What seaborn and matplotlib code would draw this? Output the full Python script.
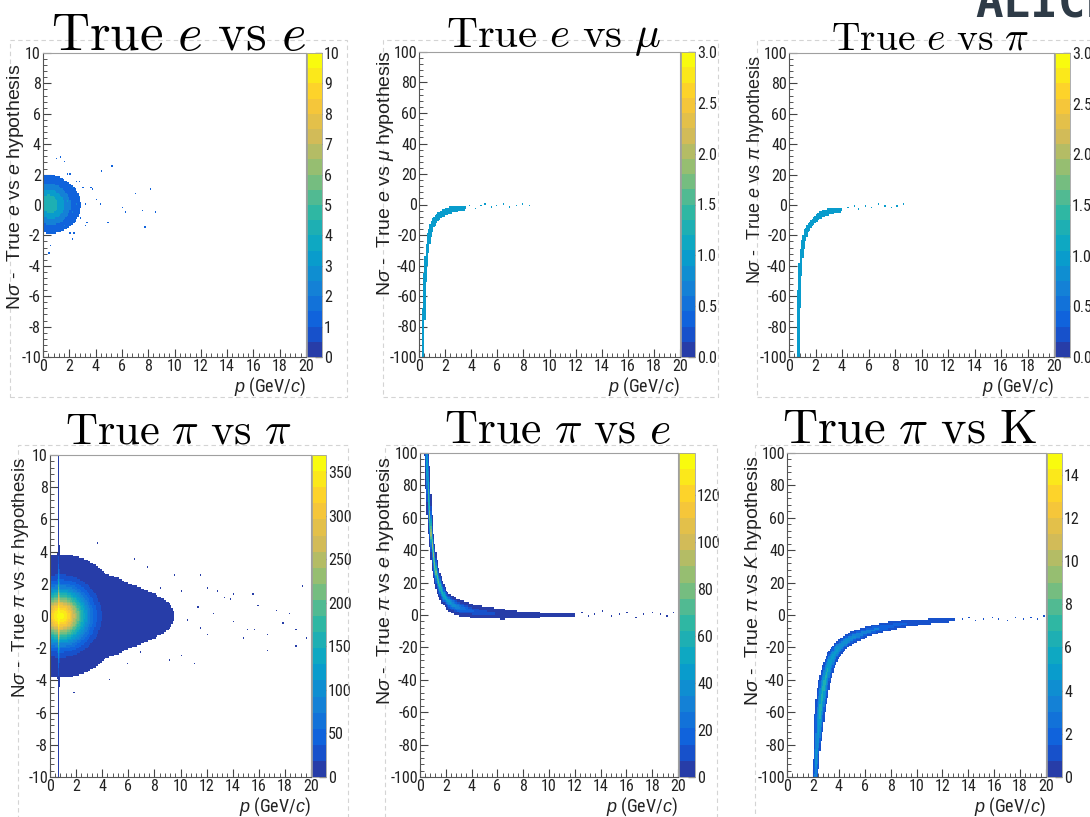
import os
import numpy as np
import matplotlib
matplotlib.use("Agg")
import matplotlib.pyplot as plt
import matplotlib.font_manager as fm
import seaborn as sns
from matplotlib.colors import LinearSegmentedColormap, ListedColormap
from matplotlib.patches import Rectangle
from matplotlib.ticker import MultipleLocator, AutoMinorLocator

# ---- data ----
# each band: momentum knots, N-sigma centre, spread (px) and peak count per bin

# True e vs e
ee_p = [0.25, 0.4, 0.6, 0.8, 1.0, 1.3, 1.6, 1.8]
ee_ns = [0.2, 0.1, 0.0, 0.0, 0.0, 0.0, 0.1, 0.2]
ee_sig = [14, 14, 14, 14, 14, 14, 13, 12]
ee_peak = [3.5, 4.2, 4.0, 3.2, 2.3, 1.2, 0.7, 0.55]
ee_out_p = [4.4, 5.3, 4.3, 4.9, 6.1, 6.3, 7.1, 7.5, 8.2, 8.5, 7.7, 3.4, 3.0, 4.1,
            2.5, 2.2, 2.0, 2.5, 3.7, 3.2, 1.6, 1.0, 0.4, 0.5,
            1.8, 2.2, 1.9, 2.3, 2.7, 2.9, 3.3, 1.6, 2.0, 2.8, 3.6, 1.4, 2.4]
ee_out_ns = [2.3, 2.5, 0.1, -1.1, -0.1, -0.4, 0.8, -0.3, 1.0, -0.4, -1.5, -1.1, 1.2, 0.4,
             0.1, -2.2, 2.1, 1.6, 1.0, -1.3, 2.9, 3.1, -3.1, -2.6,
             2.1, 1.2, 0.3, -0.5, 0.5, -0.8, 0.1, -1.4, -1.9, 1.6, 1.2, 3.2, -1.9]

# True e vs mu
emu_p = [0.27, 0.33, 0.38, 0.47, 0.56, 0.68, 0.82, 1.0, 1.25, 1.6, 2.0, 2.4, 3.0, 3.6]
emu_ns = [-100, -80, -60, -45, -36, -27, -19, -14, -10, -7, -5, -3.5, -2.5, -2]
emu_sig = [1.0, 1.0, 1.0, 1.1, 1.2, 1.3, 1.5, 1.7, 2.0, 2.2, 2.4, 2.5, 2.5, 2.0]
emu_peak = [1.4, 1.4, 1.4, 1.4, 1.4, 1.4, 1.4, 1.4, 1.4, 1.4, 1.3, 1.2, 1.0, 0.8]
emu_out_p = [3.9, 4.3, 4.7, 5.1, 5.5, 5.9, 6.4, 6.9, 7.4, 7.9, 8.4]
emu_out_ns = [-1, -3, -1, 0, -2, -1, 0, -2, -1, 0, -1]

# True e vs pi
epi_p = [0.68, 0.72, 0.76, 0.88, 1.05, 1.3, 1.6, 1.9, 2.3, 2.7, 3.3, 4.0]
epi_ns = [-100, -75, -58, -38, -25, -17, -13, -10, -7, -5, -3.8, -3]
epi_sig = [1.0, 1.0, 1.1, 1.2, 1.4, 1.6, 1.8, 2.0, 2.3, 2.5, 2.5, 2.0]
epi_peak = [1.4, 1.4, 1.4, 1.4, 1.4, 1.4, 1.4, 1.4, 1.3, 1.2, 1.0, 0.8]
epi_out_p = [4.4, 4.9, 5.3, 5.8, 6.2, 6.7, 7.2, 7.7, 8.2, 8.6]
epi_out_ns = [-2, -1, -3, -1, -2, 0, -1, -2, -1, 0]

# True pi vs pi
pipi_p = [0.6, 0.8, 1.0, 1.3, 1.6, 2.0, 2.5, 3.0, 4.0, 5.0, 6.0, 7.0, 8.0, 9.0]
pipi_ns = [0, 0, 0, 0, 0, 0, 0, 0, 0, 0, 0, 0, 0, 0]
pipi_sig = [26, 17, 16, 16, 16, 16, 16.5, 17, 17.5, 18, 18, 18, 18, 18]
pipi_peak = [370, 360, 300, 180, 110, 60, 30, 18, 8, 3.5, 2.2, 1.4, 0.9, 0.6]
stripe_p = [0.65, 0.65]
stripe_ns = [-10, 10]
stripe_sig = [0.5, 0.5]
stripe_peak = [3, 3]
pipi_out_p = [19.3, 18.8, 19.7, 18.8, 16.6, 16.6, 17.8, 15.7, 15.2, 14.8, 15.9, 15.6, 14.1,
              13.8, 13.3, 12.8, 12.1, 11.5, 12.5, 11.5, 11.0, 10.1, 9.1, 9.5, 10.1, 10.5,
              11.3, 14.1, 12.1, 8.4, 7.9, 6.9, 7.4, 6.4, 5.9, 4.6, 3.6, 1.8, 18.4, 17.4]
pipi_out_ns = [1.9, -1.9, -1.3, -0.9, -1.1, -2.1, -0.4, -0.9, -0.9, -1.3, 0.7, 1.4, 1.4,
               1.0, 1.2, 1.6, 1.8, 2.6, 0.2, -0.7, -2.9, -2.5, -2.8, 2.5, 1.5, -0.2,
               0.6, -0.3, -1.1, 1.8, -1.1, -2.3, 3.0, 3.5, -3.0, -4.0, 4.5, -4.8, 0.2, 0.4]

# True pi vs e
pie_p = [0.49, 0.6, 0.7, 0.85, 1.0, 1.2, 1.45, 1.7, 2.0, 2.5, 3.0, 4.0, 5.0, 6.5, 8.0, 10.0, 12.0]
pie_ns = [106, 85, 68, 50, 40, 28, 20, 14, 10, 6.5, 4.5, 2.5, 1.5, 0.5, 0.0, 0.0, 0.0]
pie_sig = [0.8, 0.8, 0.8, 0.8, 0.9, 1.1, 1.3, 1.6, 2.0, 2.6, 2.8, 2.5, 2.5, 2.3, 1.7, 1.5, 1.5]
pie_peak = [30, 55, 75, 85, 85, 80, 70, 60, 50, 40, 30, 15, 9, 5, 2.5, 1.2, 0.8]
pie_out_p = [12.5, 13.0, 13.6, 14.2, 14.8, 15.4, 16.0, 16.7, 17.3, 18.0, 18.6, 19.2, 19.7]
pie_out_ns = [1, -1, 0, 2, -1, 0, 1, -2, 0, 1, 0, -1, 1]

# True pi vs K
pik_p = [2.2, 2.3, 2.45, 2.55, 2.75, 2.93, 3.2, 3.55, 4.0, 4.6, 5.3, 6.3, 7.5, 9.0, 11.0, 13.0]
pik_ns = [-102, -85, -70, -60, -48, -40, -32, -25, -20, -16, -13, -10, -7.5, -5.5, -4.0, -3.2]
pik_sig = [1.3, 1.5, 2.0, 2.3, 2.6, 2.7, 2.8, 2.9, 2.9, 2.9, 2.9, 2.6, 2.5, 2.3, 2.0, 1.6]
pik_peak = [3, 4, 5, 6, 6, 6, 5.5, 5, 4.5, 4, 3.5, 3, 2.3, 1.6, 1.1, 0.8]
pik_out_p = [13.5, 14.0, 14.6, 15.2, 15.8, 16.4, 17.0, 17.6, 18.2, 18.8, 19.4, 19.8]
pik_out_ns = [-3, -2, -4, -3, -2, -3, -4, -2, -3, -2, -3, -1]

titles = [r"$\mathrm{True}\ e\ \mathrm{vs}\ e$", r"$\mathrm{True}\ e\ \mathrm{vs}\ \mu$",
          r"$\mathrm{True}\ e\ \mathrm{vs}\ \pi$", r"$\mathrm{True}\ \pi\ \mathrm{vs}\ \pi$",
          r"$\mathrm{True}\ \pi\ \mathrm{vs}\ e$", r"$\mathrm{True}\ \pi\ \mathrm{vs}\ \mathrm{K}$"]
ylabels = [r"N$\sigma$ -  True $e$ vs $e$ hypothesis", r"N$\sigma$ -  True $e$ vs $\mu$ hypothesis",
           r"N$\sigma$ -  True $e$ vs $\pi$ hypothesis", r"N$\sigma$ -  True $\pi$ vs $\pi$ hypothesis",
           r"N$\sigma$ -  True $\pi$ vs $e$ hypothesis", r"N$\sigma$ -  True $\pi$ vs $K$ hypothesis"]
cbar_max = [10, 3.0, 3.0, 370, 138, 15]
cbar_ticks = [list(range(0, 11)), [0.0, 0.5, 1.0, 1.5, 2.0, 2.5, 3.0], [0.0, 0.5, 1.0, 1.5, 2.0, 2.5, 3.0],
              [0, 50, 100, 150, 200, 250, 300, 350], [0, 20, 40, 60, 80, 100, 120], [0, 2, 4, 6, 8, 10, 12, 14]]

# ---- style ----
sns.set_style("ticks")
SANS = ["Liberation Sans", "DejaVu Sans"]
plt.rcParams["font.family"] = SANS
plt.rcParams["axes.unicode_minus"] = False
plt.rcParams["mathtext.fontset"] = "custom"
plt.rcParams["mathtext.rm"] = "Liberation Sans"
plt.rcParams["mathtext.it"] = "Liberation Sans:italic"
plt.rcParams["mathtext.bf"] = "Liberation Sans:bold"

# narrow sans for tick labels, if one is installed
narrow_file = None
all_files = [f.fname for f in fm.fontManager.ttflist]
for key in ["liberationsansnarrow-regular", "robotocondensed-regular", "notosans-condensed.",
            "dejavusanscondensed.ttf", "opensans-condensed"]:
    hits = sorted(p for p in all_files if key in os.path.basename(p).lower())
    if hits:
        narrow_file = hits[0]
        break


def tick_font(size):
    if narrow_file:
        return fm.FontProperties(fname=narrow_file, size=size)
    return fm.FontProperties(family=SANS, size=size - 1.5)


# ROOT kBird palette, 20 contours (level k takes palette position (k+1)/20)
bird_stops = [0.0, 0.125, 0.25, 0.375, 0.5, 0.625, 0.75, 0.875, 1.0]
bird_r = [0.2082, 0.0592, 0.0780, 0.0232, 0.1802, 0.5301, 0.8186, 0.9956, 0.9764]
bird_g = [0.1664, 0.3599, 0.5041, 0.6419, 0.7178, 0.7492, 0.7328, 0.7862, 0.9832]
bird_b = [0.5293, 0.8684, 0.8385, 0.7914, 0.6425, 0.4662, 0.3499, 0.1968, 0.0539]
bird_full = LinearSegmentedColormap.from_list(
    "bird_full", list(zip(bird_stops, zip(bird_r, bird_g, bird_b))), N=256)
kbird = ListedColormap([bird_full((k + 1) / 20) for k in range(20)], name="kbird")

W, H = 1090, 817


def fig_rect(l, t, r, b):
    return [l / W, 1 - b / H, (r - l) / W, (b - t) / H]


def band_density(xc, yc, bp, bn, bsig, bpeak, xr, yr, wpx, hpx):
    # density of a band along a polyline, distances measured in pixels
    sx = wpx / (xr[1] - xr[0])
    sy = hpx / (yr[1] - yr[0])
    X, Y = np.meshgrid(xc * sx, yc * sy, indexing="ij")
    kx = np.asarray(bp, float) * sx
    ky = np.asarray(bn, float) * sy
    sig = np.asarray(bsig, float)
    pk = np.asarray(bpeak, float)
    out = np.zeros_like(X)
    n = len(kx)
    for i in range(n - 1):
        dx, dy = kx[i + 1] - kx[i], ky[i + 1] - ky[i]
        t = ((X - kx[i]) * dx + (Y - ky[i]) * dy) / (dx * dx + dy * dy)
        keep = np.ones(X.shape, bool)
        if i == 0:
            keep &= t >= 0
        if i == n - 2:
            keep &= t <= 1
        t = np.clip(t, 0, 1)
        d2 = (X - kx[i] - t * dx) ** 2 + (Y - ky[i] - t * dy) ** 2
        s = sig[i] + t * (sig[i + 1] - sig[i])
        p = pk[i] + t * (pk[i + 1] - pk[i])
        out = np.maximum(out, np.where(keep, p * np.exp(-0.5 * d2 / s ** 2), 0))
    return out


panels = [
    dict(ax=(43, 53, 306, 357), cax=(307, 53, 322, 357), ylim=(-10, 10), ystep=2,
         bands=[(ee_p, ee_ns, ee_sig, ee_peak)], out=(ee_out_p, ee_out_ns),
         title=(179, 50, 38), ylab=(16, 64, 14), fmt="{:d}"),
    dict(ax=(419, 52, 680, 357), cax=(681, 52, 695, 357), ylim=(-100, 100), ystep=20,
         bands=[(emu_p, emu_ns, emu_sig, emu_peak)], out=(emu_out_p, emu_out_ns),
         title=(554, 47, 31), ylab=(385, 50, 14), fmt="{:.1f}"),
    dict(ax=(789, 53, 1054, 357), cax=(1055, 53, 1070, 357), ylim=(-100, 100), ystep=20,
         bands=[(epi_p, epi_ns, epi_sig, epi_peak)], out=(epi_out_p, epi_out_ns),
         title=(930, 50, 28.5), ylab=(755, 55, 13), fmt="{:.1f}"),
    dict(ax=(50, 455, 311, 777), cax=(312, 455, 326, 777), ylim=(-10, 10), ystep=2,
         bands=[(pipi_p, pipi_ns, pipi_sig, pipi_peak),
                (stripe_p, stripe_ns, stripe_sig, stripe_peak)],
         out=(pipi_out_p, pipi_out_ns),
         title=(178, 443, 32), ylab=(21, 457, 13.5), fmt="{:d}"),
    dict(ax=(420, 453, 678, 777), cax=(679, 453, 695, 777), ylim=(-100, 100), ystep=20,
         bands=[(pie_p, pie_ns, pie_sig, pie_peak)], out=(pie_out_p, pie_out_ns),
         title=(558, 443, 33), ylab=(386, 457, 14), fmt="{:d}"),
    dict(ax=(787, 453, 1046, 777), cax=(1047, 453, 1062, 777), ylim=(-100, 100), ystep=20,
         bands=[(pik_p, pik_ns, pik_sig, pik_peak)], out=(pik_out_p, pik_out_ns),
         title=(910, 443, 35), ylab=(753, 455, 14), fmt="{:d}"),
]

# slide picture frames
frames = [(10, 40, 347, 397), (383, 40, 718, 397), (757, 40, 1100, 397),
          (18, 445, 348, 830), (385, 445, 717, 830), (755, 445, 1100, 830)]

fig = plt.figure(figsize=(W / 100, H / 100), dpi=100)

for l, t, r, b in frames:
    fig.add_artist(Rectangle((l / W, 1 - b / H), (r - l) / W, (b - t) / H,
                             transform=fig.transFigure, fill=False,
                             ec="#d4d4d4", lw=0.8, ls=(0, (4, 3))))

xedges = np.linspace(0, 20, 201)
xc = 0.5 * (xedges[:-1] + xedges[1:])

for i, pn in enumerate(panels):
    l, t, r, b = pn["ax"]
    ax = fig.add_axes(fig_rect(l, t, r, b))
    cax = fig.add_axes(fig_rect(*pn["cax"]))
    y0, y1 = pn["ylim"]
    yedges = np.linspace(y0, y1, 201)
    yc = 0.5 * (yedges[:-1] + yedges[1:])

    dens = np.zeros((len(xc), len(yc)))
    for bp, bn, bs, bk in pn["bands"]:
        dens += band_density(xc, yc, bp, bn, bs, bk, (0, 20), (y0, y1), r - l, b - t)
    counts = np.round(dens)
    ii, jj = np.nonzero(counts)
    xs = np.concatenate([xc[ii], pn["out"][0]])
    ys = np.concatenate([yc[jj], pn["out"][1]])
    ws = np.concatenate([counts[ii, jj], np.ones(len(pn["out"][0]))])

    sns.histplot(x=xs, y=ys, weights=ws, bins=[xedges, yedges], cmap=kbird,
                 vmin=0, vmax=cbar_max[i], cbar=True, cbar_ax=cax, ax=ax)

    ax.set_xlim(0, 20)
    ax.set_ylim(y0, y1)
    ax.xaxis.set_major_locator(MultipleLocator(2))
    ax.xaxis.set_minor_locator(AutoMinorLocator(5))
    ax.yaxis.set_major_locator(MultipleLocator(pn["ystep"]))
    ax.yaxis.set_minor_locator(AutoMinorLocator(5))
    ax.tick_params(which="major", direction="in", length=6, width=0.8, color="#444444",
                   pad=1.5, labelcolor="#222222")
    ax.tick_params(which="minor", direction="in", length=3, width=0.7, color="#555555")
    for lbl in ax.get_xticklabels() + ax.get_yticklabels():
        lbl.set_fontproperties(tick_font(11.5))
    for side in ["left", "bottom"]:
        ax.spines[side].set_color("#555555")
        ax.spines[side].set_linewidth(0.8)
    for side in ["top", "right"]:
        ax.spines[side].set_visible(True)
        ax.spines[side].set_color("#a0a0a0")
        ax.spines[side].set_linewidth(0.8)
    ax.set_xlabel(r"$p$ (GeV/$c$)", loc="right", labelpad=1, color="#222222",
                  fontproperties=tick_font(13))
    ax.set_ylabel("")

    cb = ax.collections[-1].colorbar
    cb.outline.set_edgecolor("#a0a0a0")
    cb.outline.set_linewidth(0.6)
    cb.set_ticks(cbar_ticks[i])
    cb.set_ticklabels([pn["fmt"].format(v) for v in cbar_ticks[i]])
    cax.minorticks_off()
    cax.tick_params(direction="in", length=5, width=0.9, color="#333333",
                    pad=1.5, labelcolor="#222222")
    for lbl in cax.get_yticklabels():
        lbl.set_fontproperties(tick_font(11.5))

    tx, ty, ts = pn["title"]
    fig.text(tx / W, 1 - ty / H, titles[i], ha="center", va="baseline",
             fontsize=ts, math_fontfamily="cm", color="black")
    lx, ly, ls = pn["ylab"]
    fig.text(lx / W, 1 - ly / H, ylabels[i], rotation=90, ha="center", va="top",
             fontsize=ls, family=SANS, color="#222222")

# slide header, cut off at the top edge
fig.text(975 / W, 1 - 17 / H, "ALICE", fontsize=33, fontweight="bold",
         family=["DejaVu Sans Mono"], color="#2e3b47", ha="left", va="baseline")

fig.savefig("out.png", dpi=100)
